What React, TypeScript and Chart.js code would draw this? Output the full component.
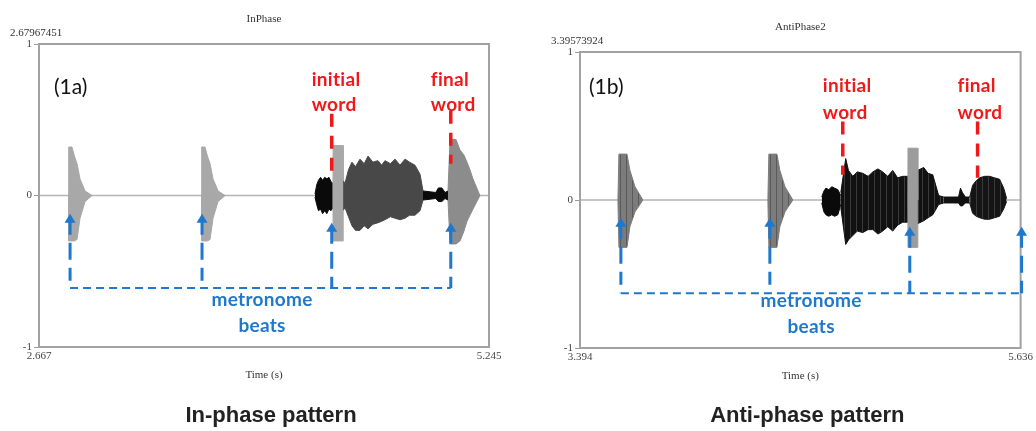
import React, { useEffect, useRef } from 'react';
import { Chart, registerables } from 'chart.js';
Chart.register(...registerables);

// ---------------- In-phase panel (1a) ----------------
const inRange = [2.667, 5.245];
const inTitle = 'InPhase';
const inMaxLabel = '2.67967451';
const inTag = '(1a)';
const inCaption = 'In-phase pattern';

const inClick1T = [2.836, 2.837, 2.856, 2.870, 2.885, 2.902, 2.931, 2.971];
const inClick1Hi = [0, 0.32, 0.32, 0.26, 0.21, 0.11, 0.03, 0];
const inClick1Lo = [0, -0.30, -0.30, -0.30, -0.29, -0.15, -0.04, 0];

const inClick2T = [3.598, 3.599, 3.618, 3.632, 3.647, 3.664, 3.693, 3.733];
const inClick2Hi = [0, 0.32, 0.32, 0.26, 0.21, 0.11, 0.03, 0];
const inClick2Lo = [0, -0.30, -0.30, -0.30, -0.29, -0.15, -0.04, 0];

const inOnsetT = [4.248, 4.258, 4.268, 4.280, 4.292, 4.304, 4.316, 4.328, 4.340, 4.351];
const inOnsetHi = [0.01, 0.07, 0.10, 0.12, 0.10, 0.12, 0.11, 0.12, 0.09, 0.08];
const inOnsetLo = [-0.01, -0.06, -0.10, -0.09, -0.12, -0.10, -0.12, -0.09, -0.10, -0.08];

const inClick3T = [4.351, 4.352, 4.409, 4.410];
const inClick3Hi = [0, 0.33, 0.33, 0.10];
const inClick3Lo = [0, -0.30, -0.30, -0.10];

const inWord1T = [4.409, 4.420, 4.440, 4.460, 4.480, 4.506, 4.530, 4.552, 4.580, 4.609, 4.630, 4.649, 4.680, 4.707, 4.735, 4.764, 4.790, 4.821, 4.850, 4.867];
const inWord1Hi = [0.10, 0.08, 0.17, 0.22, 0.19, 0.24, 0.21, 0.26, 0.22, 0.23, 0.20, 0.23, 0.21, 0.24, 0.20, 0.24, 0.22, 0.20, 0.14, 0.03];
const inWord1Lo = [-0.10, -0.08, -0.14, -0.20, -0.23, -0.23, -0.20, -0.22, -0.19, -0.18, -0.17, -0.16, -0.14, -0.15, -0.16, -0.15, -0.13, -0.13, -0.10, -0.03];

const inGapT = [4.867, 4.940, 4.955, 4.975, 4.993, 5.010];
const inGapHi = [0.03, 0.02, 0.05, 0.05, 0.02, 0.03];
const inGapLo = [-0.03, -0.02, -0.04, -0.04, -0.02, -0.03];

const inWord2T = [5.010, 5.022, 5.056, 5.079, 5.100, 5.119, 5.136, 5.153, 5.193];
const inWord2Hi = [0.03, 0.37, 0.37, 0.30, 0.27, 0.22, 0.17, 0.11, 0.0];
const inWord2Lo = [-0.03, -0.32, -0.32, -0.30, -0.24, -0.17, -0.13, -0.09, 0.0];

const inBeats = [2.845, 3.601, 4.344, 5.026];
const inBeatTips = [-0.12, -0.12, -0.18, -0.18];
const inBeatLine = -0.61;
const inWordMarks = [4.344, 5.026];
const inWordMarkTop = [0.54, 0.56];
const inWordMarkBottom = [0.15, 0.21];

// ---------------- Anti-phase panel (1b) ----------------
const anRange = [3.394, 5.636];
const anTitle = 'AntiPhase2';
const anMaxLabel = '3.39573924';
const anTag = '(1b)';
const anCaption = 'Anti-phase pattern';

const anClick1T = [3.587, 3.592, 3.633, 3.648, 3.674, 3.714];
const anClick1Hi = [0, 0.31, 0.31, 0.20, 0.09, 0];
const anClick1Lo = [0, -0.32, -0.32, -0.18, -0.08, 0];

const anClick2T = [4.350, 4.355, 4.396, 4.411, 4.437, 4.477];
const anClick2Hi = [0, 0.31, 0.31, 0.20, 0.09, 0];
const anClick2Lo = [0, -0.32, -0.32, -0.18, -0.08, 0];

const anOnsetT = [4.624, 4.635, 4.645, 4.660, 4.675, 4.690, 4.706, 4.721];
const anOnsetHi = [0.02, 0.06, 0.08, 0.07, 0.09, 0.08, 0.07, 0.03];
const anOnsetLo = [-0.02, -0.08, -0.10, -0.11, -0.10, -0.11, -0.10, -0.03];

const anWord1T = [4.721, 4.746, 4.760, 4.782, 4.805, 4.833, 4.860, 4.884, 4.910, 4.934, 4.960, 4.985, 5.010, 5.036, 5.062, 5.112, 5.143, 5.165, 5.189, 5.219, 5.245];
const anWord1Hi = [0.05, 0.28, 0.20, 0.16, 0.19, 0.18, 0.16, 0.19, 0.21, 0.19, 0.16, 0.20, 0.15, 0.16, 0.16, 0.20, 0.22, 0.18, 0.17, 0.03, 0.02];
const anWord1Lo = [-0.05, -0.30, -0.27, -0.24, -0.21, -0.22, -0.20, -0.20, -0.23, -0.21, -0.18, -0.21, -0.17, -0.15, -0.15, -0.16, -0.14, -0.12, -0.10, -0.03, -0.02];

const anClick3T = [5.062, 5.063, 5.112, 5.113];
const anClick3Hi = [0, 0.35, 0.35, 0];
const anClick3Lo = [0, -0.32, -0.32, 0];

const anGapT = [5.245, 5.320, 5.330, 5.340, 5.355, 5.377];
const anGapHi = [0.02, 0.02, 0.08, 0.05, 0.02, 0.02];
const anGapLo = [-0.02, -0.02, -0.04, -0.04, -0.02, -0.02];

const anWord2T = [5.377, 5.392, 5.410, 5.428, 5.453, 5.478, 5.503, 5.529, 5.550, 5.565];
const anWord2Hi = [0.02, 0.10, 0.13, 0.15, 0.16, 0.16, 0.15, 0.14, 0.08, 0.01];
const anWord2Lo = [-0.02, -0.09, -0.11, -0.12, -0.13, -0.13, -0.12, -0.11, -0.06, -0.01];

const anBeats = [3.602, 4.360, 5.072, 5.641];
const anBeatTips = [-0.12, -0.12, -0.18, -0.18];
const anBeatLine = -0.63;
const anWordMarks = [4.731, 5.417];
const anWordMarkTop = [0.53, 0.53];
const anWordMarkBottom = [0.17, 0.15];

const wordLabels = [['initial', 'word'], ['final', 'word']];
const beatLabel = ['metronome', 'beats'];
const yTicks = [-1, 0, 1];

const RED = '#f01818';
const BLUE = '#1f78cc';

type Seg = { t: number[]; hi: number[]; lo: number[]; color: string; order: number; texture?: string };

type Panel = {
  range: number[];
  title: string;
  maxLabel: string;
  tag: string;
  caption: string;
  segs: Seg[];
  beats: number[];
  beatTips: number[];
  beatLine: number;
  marks: number[];
  markTop: number[];
  markBottom: number[];
  wordBase: number[];
  beatText: { t: number; y: number[] };
  layout: { top: number; right: number; yWidth: number; xHeight: number; tagDx: number; tagDy: number };
  width: number;
  left: number;
};

const inPanel: Panel = {
  range: inRange, title: inTitle, maxLabel: inMaxLabel, tag: inTag, caption: inCaption,
  segs: [
    { t: inClick1T, hi: inClick1Hi, lo: inClick1Lo, color: '#a8a8a8', order: 2 },
    { t: inClick2T, hi: inClick2Hi, lo: inClick2Lo, color: '#a8a8a8', order: 2 },
    { t: inOnsetT, hi: inOnsetHi, lo: inOnsetLo, color: '#0a0a0a', order: 3 },
    { t: inClick3T, hi: inClick3Hi, lo: inClick3Lo, color: '#a8a8a8', order: 2 },
    { t: inWord1T, hi: inWord1Hi, lo: inWord1Lo, color: '#484848', order: 3 },
    { t: inGapT, hi: inGapHi, lo: inGapLo, color: '#0a0a0a', order: 3 },
    { t: inWord2T, hi: inWord2Hi, lo: inWord2Lo, color: '#8c8c8c', order: 2 },
  ],
  beats: inBeats, beatTips: inBeatTips, beatLine: inBeatLine,
  marks: inWordMarks, markTop: inWordMarkTop, markBottom: inWordMarkBottom,
  wordBase: [0.72, 0.56],
  beatText: { t: 3.945, y: [-0.73, -0.90] },
  layout: { top: 44, right: 27, yWidth: 39, xHeight: 84, tagDx: 15, tagDy: 43 },
  width: 516, left: 0,
};

const anPanel: Panel = {
  range: anRange, title: anTitle, maxLabel: anMaxLabel, tag: anTag, caption: anCaption,
  segs: [
    { t: anClick1T, hi: anClick1Hi, lo: anClick1Lo, color: '#7c7c7c', order: 2, texture: 'stripe' },
    { t: anClick2T, hi: anClick2Hi, lo: anClick2Lo, color: '#7c7c7c', order: 2, texture: 'stripe' },
    { t: anOnsetT, hi: anOnsetHi, lo: anOnsetLo, color: '#0a0a0a', order: 3 },
    { t: anWord1T, hi: anWord1Hi, lo: anWord1Lo, color: '#111111', order: 3, texture: 'black' },
    { t: anClick3T, hi: anClick3Hi, lo: anClick3Lo, color: '#9c9c9c', order: 1 },
    { t: anGapT, hi: anGapHi, lo: anGapLo, color: '#111111', order: 3 },
    { t: anWord2T, hi: anWord2Hi, lo: anWord2Lo, color: '#151515', order: 3, texture: 'black' },
  ],
  beats: anBeats, beatTips: anBeatTips, beatLine: anBeatLine,
  marks: anWordMarks, markTop: anWordMarkTop, markBottom: anWordMarkBottom,
  wordBase: [0.73, 0.55],
  beatText: { t: 4.570, y: [-0.72, -0.90] },
  layout: { top: 52, right: 15, yWidth: 64, xHeight: 83, tagDx: 9, tagDy: 35 },
  width: 520, left: 516,
};

// Fixed decorative textures that imitate the waveform's dense vertical strokes
function makeTexture(kind: string | undefined, base: string): any {
  if (!kind) return base;
  const c = document.createElement('canvas');
  c.width = 6;
  c.height = 6;
  const g = c.getContext('2d') as CanvasRenderingContext2D;
  g.fillStyle = base;
  g.fillRect(0, 0, 6, 6);
  if (kind === 'stripe') {
    g.fillStyle = '#5a5a5a';
    g.fillRect(2, 0, 1, 6);
  } else if (kind === 'black') {
    g.fillStyle = '#3a3a3a';
    g.fillRect(4, 0, 1, 6);
  }
  const pat = g.createPattern(c, 'repeat');
  return pat || base;
}

function buildDatasets(p: Panel) {
  const ds: any[] = [];
  p.segs.forEach((s) => {
    ds.push({
      data: s.t.map((x, i) => ({ x, y: s.hi[i] })),
      borderColor: s.color, borderWidth: 1, pointRadius: 0, fill: false, order: s.order,
    });
    ds.push({
      data: s.t.map((x, i) => ({ x, y: s.lo[i] })),
      borderColor: s.color, borderWidth: 1, pointRadius: 0, fill: '-1',
      backgroundColor: makeTexture(s.texture, s.color), order: s.order,
    });
  });
  ds.push({
    data: [{ x: p.range[0], y: 0 }, { x: p.range[1], y: 0 }],
    borderColor: '#b4b4b4', borderWidth: 1.5, pointRadius: 0, fill: false, order: 10,
  });
  return ds;
}

function makePlugin(p: Panel) {
  return {
    id: 'annot',
    afterDatasetsDraw(chart: any) {
      const { ctx, chartArea: a } = chart;
      const x = chart.scales.x;
      const y = chart.scales.y;
      ctx.save();
      // frame
      ctx.strokeStyle = '#a2a2a2';
      ctx.lineWidth = 2;
      ctx.setLineDash([]);
      ctx.strokeRect(a.left, a.top, a.right - a.left, a.bottom - a.top);

      // red dashed word marks
      ctx.strokeStyle = RED;
      ctx.lineWidth = 3.5;
      ctx.setLineDash([13, 9]);
      p.marks.forEach((t, i) => {
        const px = x.getPixelForValue(t);
        ctx.beginPath();
        ctx.moveTo(px, y.getPixelForValue(p.markTop[i]));
        ctx.lineTo(px, y.getPixelForValue(p.markBottom[i]));
        ctx.stroke();
      });

      // word labels (small letter spacing keeps "fi"/"ti" from forming ligatures)
      ctx.setLineDash([]);
      ctx.fillStyle = RED;
      ctx.font = 'bold 19px Lato';
      try { (ctx as any).letterSpacing = '0.3px'; } catch (e) { /* ignore */ }
      ctx.textAlign = 'left';
      ctx.textBaseline = 'alphabetic';
      p.marks.forEach((t, i) => {
        const px = x.getPixelForValue(t) - 20;
        wordLabels[i].forEach((w, j) => {
          ctx.fillText(w, px, y.getPixelForValue(p.wordBase[j]));
        });
      });

      // blue beat arrows
      const lineY = y.getPixelForValue(p.beatLine);
      ctx.strokeStyle = BLUE;
      ctx.fillStyle = BLUE;
      p.beats.forEach((t, i) => {
        const px = x.getPixelForValue(t);
        const tip = y.getPixelForValue(p.beatTips[i]);
        ctx.setLineDash([]);
        ctx.beginPath();
        ctx.moveTo(px, tip);
        ctx.lineTo(px - 5.5, tip + 9);
        ctx.lineTo(px + 5.5, tip + 9);
        ctx.closePath();
        ctx.fill();
        ctx.lineWidth = 3;
        ctx.setLineDash([13, 8, 17, 8]);
        ctx.beginPath();
        ctx.moveTo(px, tip + 8);
        ctx.lineTo(px, lineY);
        ctx.stroke();
      });
      ctx.lineWidth = 2;
      ctx.setLineDash([8, 5]);
      ctx.beginPath();
      ctx.moveTo(x.getPixelForValue(p.beats[0]), lineY);
      ctx.lineTo(x.getPixelForValue(p.beats[p.beats.length - 1]), lineY);
      ctx.stroke();

      ctx.setLineDash([]);
      ctx.font = 'bold 19px Lato';
      ctx.textAlign = 'center';
      const bx = x.getPixelForValue(p.beatText.t);
      beatLabel.forEach((w, j) => {
        ctx.fillText(w, bx, y.getPixelForValue(p.beatText.y[j]));
      });
      try { (ctx as any).letterSpacing = '0px'; } catch (e) { /* ignore */ }

      // panel tag
      ctx.fillStyle = '#111';
      ctx.font = '21px Lato';
      ctx.textAlign = 'left';
      ctx.textBaseline = 'middle';
      ctx.fillText(p.tag, a.left + p.layout.tagDx, a.top + p.layout.tagDy);

      // texts around the plot
      const cx = (a.left + a.right) / 2;
      ctx.fillStyle = '#333';
      ctx.font = '11px "Liberation Serif"';
      ctx.textAlign = 'center';
      ctx.fillText(p.title, cx, a.top - 25);
      ctx.textAlign = 'left';
      ctx.fillText(p.maxLabel, a.left - 29, a.top - 11);
      ctx.textAlign = 'center';
      ctx.fillText('Time (s)', cx, a.bottom + 28);

      ctx.fillStyle = '#222';
      ctx.font = 'bold 22px "Liberation Sans"';
      ctx.textBaseline = 'alphabetic';
      ctx.fillText(p.caption, cx + 7, 422);
      ctx.restore();
    },
  };
}

function makeConfig(p: Panel): any {
  return {
    type: 'line',
    data: { datasets: buildDatasets(p) },
    options: {
      animation: false,
      responsive: false,
      maintainAspectRatio: false,
      layout: { padding: { top: p.layout.top, right: p.layout.right, left: 0, bottom: 0 } },
      plugins: { legend: { display: false }, tooltip: { enabled: false }, title: { display: false } },
      elements: { line: { tension: 0 }, point: { radius: 0 } },
      scales: {
        x: {
          type: 'linear',
          min: p.range[0],
          max: p.range[1],
          afterBuildTicks: (scale: any) => {
            scale.ticks = [{ value: p.range[0] }, { value: p.range[1] }];
          },
          afterFit: (scale: any) => { scale.height = p.layout.xHeight; },
          grid: { display: false, drawTicks: false },
          border: { display: false },
          ticks: {
            autoSkip: false, maxRotation: 0, minRotation: 0, padding: 3,
            color: '#444', font: { family: 'Liberation Serif', size: 11 },
            callback: (v: number) => v.toFixed(3),
          },
        },
        y: {
          type: 'linear',
          min: -1,
          max: 1,
          afterBuildTicks: (scale: any) => {
            scale.ticks = yTicks.map((v) => ({ value: v }));
          },
          afterFit: (scale: any) => { scale.width = p.layout.yWidth; },
          grid: { display: true, drawOnChartArea: false, drawTicks: true, tickLength: 5, color: '#999' },
          border: { display: false },
          ticks: {
            padding: 2, color: '#444', font: { family: 'Liberation Serif', size: 11 },
            callback: (v: number) => String(v),
          },
        },
      },
    },
    plugins: [makePlugin(p)],
  };
}

function WavePanel({ p }: { p: Panel }) {
  const ref = useRef<HTMLCanvasElement>(null);
  useEffect(() => {
    const chart = new Chart(ref.current as HTMLCanvasElement, makeConfig(p));
    return () => chart.destroy();
  }, [p]);
  return (
    <canvas
      ref={ref}
      width={p.width}
      height={431}
      style={{ position: 'absolute', left: p.left, top: 0, width: p.width, height: 431 }}
    />
  );
}

export default function App() {
  return (
    <div style={{ position: 'absolute', left: 0, top: 0, width: 1036, height: 431, background: '#fff' }}>
      <WavePanel p={inPanel} />
      <WavePanel p={anPanel} />
    </div>
  );
}
